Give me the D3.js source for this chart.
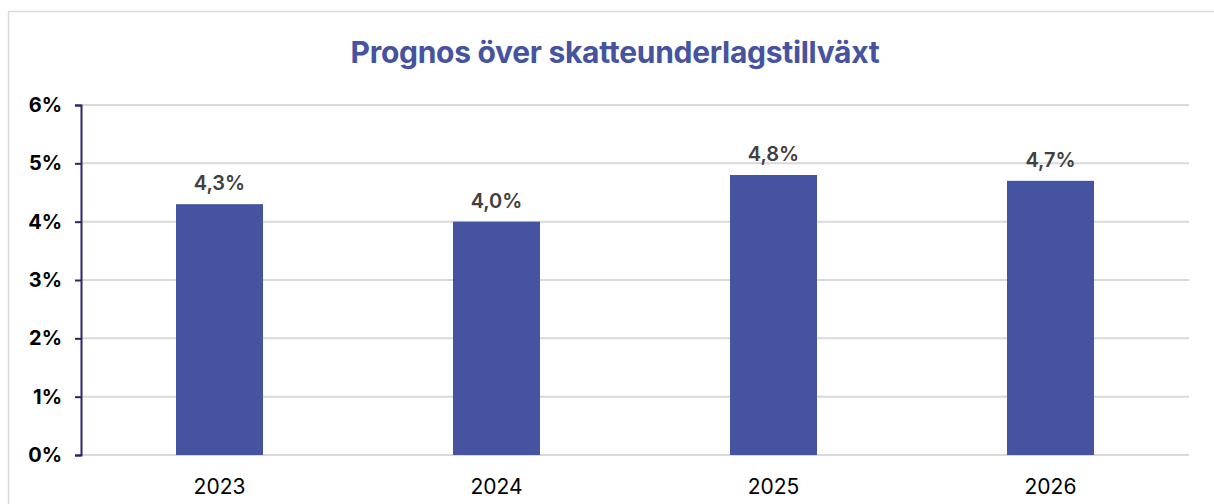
<!DOCTYPE html>
<html>
<head>
<meta charset="utf-8">
<script src="https://cdn.jsdelivr.net/npm/d3@7"></script>
<style>
  body { margin: 0; background: #fff; }
  text { font-family: Inter, "Noto Sans", sans-serif; }
</style>
</head>
<body>
<div id="chart"></div>
<script>
// chart data
const years = ["2023", "2024", "2025", "2026"];
const growth = [4.3, 4.0, 4.8, 4.7];
const valueLabels = ["4,3%", "4,0%", "4,8%", "4,7%"];
const yTicks = [0, 1, 2, 3, 4, 5, 6];
const chartTitle = "Prognos över skatteunderlagstillväxt";

const width = 1214, height = 504;
const margin = {top: 105, right: 25, bottom: 49, left: 81};

const svg = d3.select("#chart").append("svg")
    .attr("width", width)
    .attr("height", height);

// outer frame
svg.append("rect")
    .attr("x", 8.5).attr("y", 11.5)
    .attr("width", width + 10).attr("height", height)
    .attr("fill", "none")
    .attr("stroke", "#d9d9d9")
    .attr("stroke-width", 1.5);

const x = d3.scaleBand()
    .domain(years)
    .range([margin.left, width - margin.right])
    .padding(0);

const y = d3.scaleLinear()
    .domain([0, 6])
    .range([height - margin.bottom, margin.top]);

// gridlines
svg.append("g")
    .selectAll("line")
    .data(yTicks)
    .join("line")
    .attr("x1", margin.left)
    .attr("x2", width - margin.right)
    .attr("y1", d => y(d))
    .attr("y2", d => y(d))
    .attr("stroke", "#d9d9d9")
    .attr("stroke-width", 2);

// y axis
const yAxis = d3.axisLeft(y)
    .tickValues(yTicks)
    .tickSize(6)
    .tickPadding(13)
    .tickFormat(d => d + "%");

const gy = svg.append("g")
    .attr("transform", "translate(" + margin.left + ",0)")
    .call(yAxis);
gy.select(".domain").attr("stroke", "#2b2468").attr("stroke-width", 2);
gy.selectAll(".tick line").attr("stroke", "#2b2468").attr("stroke-width", 2);
gy.selectAll(".tick text")
    .attr("fill", "#000")
    .style("font-size", "20px")
    .style("font-weight", "700");

// bars
const barW = x.bandwidth() * 0.314;
svg.append("g")
    .selectAll("rect")
    .data(years)
    .join("rect")
    .attr("x", d => x(d) + x.bandwidth() / 2 - barW / 2)
    .attr("y", (d, i) => y(growth[i]))
    .attr("width", barW)
    .attr("height", (d, i) => y(0) - y(growth[i]))
    .attr("fill", "#4553a0");

// value labels
svg.append("g")
    .selectAll("text")
    .data(years)
    .join("text")
    .attr("x", d => x(d) + x.bandwidth() / 2)
    .attr("y", (d, i) => y(growth[i]) - 14)
    .attr("text-anchor", "middle")
    .attr("fill", "#404040")
    .style("font-size", "20px")
    .style("font-weight", "600")
    .text((d, i) => valueLabels[i]);

// x labels
const xAxis = d3.axisBottom(x).tickSize(0).tickPadding(24);
const gx = svg.append("g")
    .attr("transform", "translate(0," + (height - margin.bottom) + ")")
    .call(xAxis);
gx.select(".domain").remove();
gx.selectAll(".tick text")
    .attr("fill", "#000")
    .style("font-size", "21px");

// title
svg.append("text")
    .attr("x", 615)
    .attr("y", 63)
    .attr("text-anchor", "middle")
    .attr("fill", "#4553a0")
    .style("font-size", "30px")
    .style("font-weight", "700")
    .style("letter-spacing", "-0.3px")
    .text(chartTitle);
</script>
</body>
</html>
